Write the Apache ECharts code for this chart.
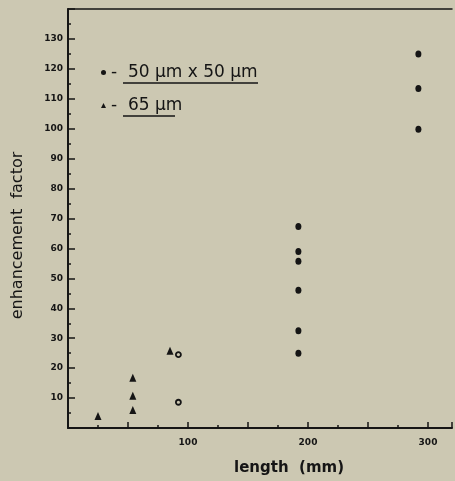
<!DOCTYPE html>
<html>
<head>
<meta charset="utf-8">
<script src="https://cdn.jsdelivr.net/npm/echarts@6/dist/echarts.min.js"></script>
<style>
html,body{margin:0;padding:0;background:#ccc8b2;}
#chart{width:455px;height:481px;}
</style>
</head>
<body>
<div id="chart"></div>
<script>
// Data
const squareLengths = [192, 192, 192, 192, 192, 192, 292, 292, 292];
const squareFactors = [67.3, 59, 55.7, 46, 32.5, 25, 125, 113.4, 99.8];
const openLengths = [92, 92];
const openFactors = [24.5, 8.6];
const roundLengths = [25, 54, 54, 54, 85];
const roundFactors = [4.0, 16.8, 10.8, 6, 25.8];
const yTickValues = [10, 20, 30, 40, 50, 60, 70, 80, 90, 100, 110, 120, 130];
const xTickLabels = [100, 200, 300];

const seriesSquare = '50 μm x 50 μm';
const seriesRound = '65 μm';

const zip = (xs, ys) => xs.map((x, i) => [x, ys[i]]);
const ink = '#151515';
const font = 'DejaVu Sans';

const chart = echarts.init(document.getElementById('chart'));
chart.setOption({
  backgroundColor: '#ccc8b2',
  animation: false,
  textStyle: { fontFamily: font, color: ink },
  grid: { left: 68, right: 0, top: 9, bottom: 50, containLabel: false },
  legend: {
    data: [seriesSquare, seriesRound],
    orient: 'vertical',
    left: 96, top: 59,
    itemWidth: 5, itemHeight: 5,
    itemGap: 16,
    formatter: n => '-  ' + n,
    itemStyle: { opacity: 1 },
    textStyle: { fontSize: 17, fontFamily: font, color: ink }
  },
  graphic: [
    { type: 'line', shape: { x1: 123, y1: 83, x2: 258, y2: 83 }, style: { stroke: ink, lineWidth: 1.5 } },
    { type: 'line', shape: { x1: 123, y1: 116, x2: 175, y2: 116 }, style: { stroke: ink, lineWidth: 1.5 } }
  ],
  xAxis: [{
    type: 'value', min: 0, max: 320, interval: 50,
    name: 'length  (mm)', nameLocation: 'middle', nameGap: 33,
    nameTextStyle: { fontSize: 15, fontWeight: 'bold', color: ink, padding: [0, 0, 0, 58] },
    axisLine: { show: true, lineStyle: { color: ink, width: 2 } },
    axisTick: { show: true, inside: true, length: 6, lineStyle: { color: ink, width: 1.5 } },
    minorTick: { show: true, splitNumber: 2, length: 3, lineStyle: { color: ink, width: 1.5 } },
    axisLabel: {
      margin: 10, fontSize: 9, fontWeight: 'bold', color: ink,
      formatter: v => xTickLabels.includes(v) ? String(v) : ''
    },
    splitLine: { show: false }
  }, {
    type: 'value', position: 'top', min: 0, max: 320,
    axisLine: { show: true, onZero: false, lineStyle: { color: ink, width: 1.5 } },
    axisTick: { show: false }, axisLabel: { show: false }, splitLine: { show: false }
  }],
  yAxis: {
    type: 'value', min: 0, max: 140, interval: 10,
    name: 'enhancement  factor', nameLocation: 'middle', nameGap: 42, nameRotate: 90,
    nameTextStyle: { fontSize: 16, color: ink, padding: [0, 34, 0, 0] },
    axisLine: { show: true, lineStyle: { color: ink, width: 2 } },
    axisTick: { show: true, inside: true, length: 7, lineStyle: { color: ink, width: 1.5 } },
    minorTick: { show: true, splitNumber: 2, length: 3, lineStyle: { color: ink, width: 1.5 } },
    axisLabel: {
      margin: 5, fontSize: 9, fontWeight: 'bold', color: ink,
      formatter: v => yTickValues.includes(v) ? String(v) : ''
    },
    splitLine: { show: false }
  },
  series: [
    {
      name: seriesSquare, type: 'scatter', symbol: 'circle', symbolSize: [6, 7],
      itemStyle: { color: ink, opacity: 1 }, data: zip(squareLengths, squareFactors)
    },
    {
      name: seriesSquare + ' (open)', type: 'scatter', symbol: 'circle', symbolSize: 5,
      itemStyle: { color: '#ccc8b2', borderColor: ink, borderWidth: 1.8, opacity: 1 },
      data: zip(openLengths, openFactors)
    },
    {
      name: seriesRound, type: 'scatter', symbol: 'triangle', symbolSize: [7, 8],
      itemStyle: { color: ink, opacity: 1 }, data: zip(roundLengths, roundFactors)
    }
  ]
});
</script>
</body>
</html>
